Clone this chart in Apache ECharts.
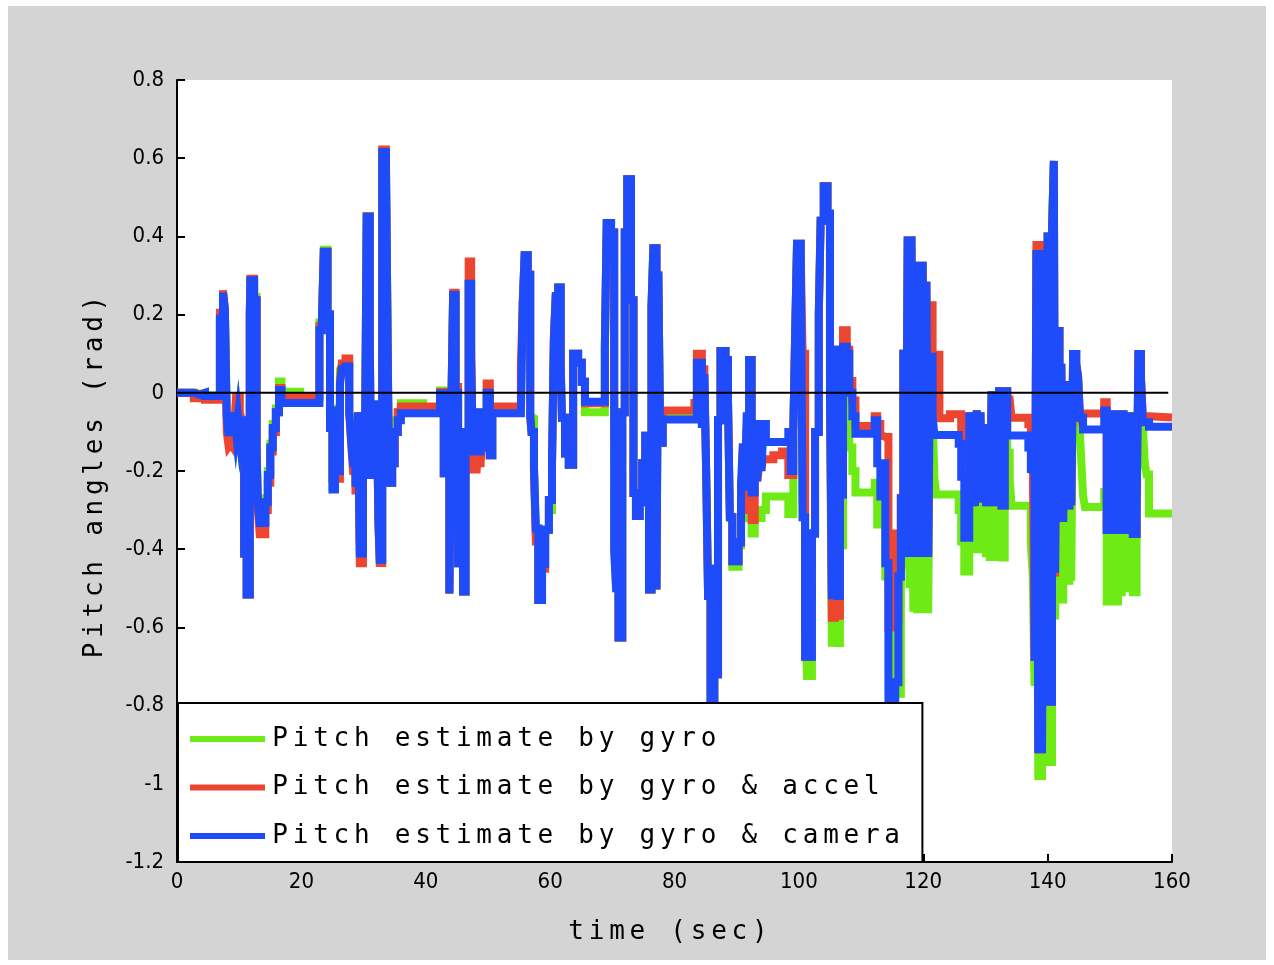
<!DOCTYPE html>
<html><head><meta charset="utf-8">
<script src="https://cdn.jsdelivr.net/npm/echarts@6/dist/echarts.min.js"></script>
<style>html,body{margin:0;padding:0;background:#fff;}#chart{position:absolute;left:8px;top:6px;width:1258px;height:954px;}</style>
</head><body><div id="chart"></div>
<script>
// time (sec)
const time = [
0,2.7,3.6,4.5,6.9,7.4,7.7,8.0,8.3,8.6,
8.9,9.2,9.5,9.8,10.1,10.4,10.8,11.2,11.7,11.8,
12.4,12.8,13.0,13.3,14.2,14.6,15.0,15.4,15.9,16.4,
16.8,19.8,22.9,23.3,23.6,24.2,24.6,25.0,25.4,25.8,
26.2,26.5,27.1,27.7,28.0,28.3,28.7,29.1,29.4,29.9,
30.2,30.5,31.0,31.2,31.5,31.8,32.1,32.4,32.6,33.0,
33.6,33.9,34.1,34.6,35.0,35.5,36.0,39.6,42.3,42.9,
43.3,43.8,44.1,44.4,44.8,45.2,45.6,46.0,46.4,46.9,
47.3,47.6,47.9,48.2,48.5,48.8,49.1,49.4,49.8,50.3,
50.7,55.3,55.6,55.9,56.4,56.8,57.0,57.4,57.7,58.1,
58.7,59.2,59.8,60.3,60.6,60.9,61.3,61.7,61.9,62.4,
63.0,63.7,64.5,65.1,65.6,68.8,69.1,69.8,70.3,70.6,
71.0,71.6,72.0,72.4,73.0,73.4,73.8,74.4,74.8,75.3,
75.9,76.3,76.6,77.1,77.4,77.7,78.1,83.2,83.6,84.4,
84.8,85.1,85.4,85.8,86.4,86.6,87.0,87.4,88.2,88.6,
88.9,89.3,90.3,90.7,91.0,91.3,91.6,92.0,92.4,92.9,
93.3,93.6,94.0,94.3,94.7,95.9,97.3,98.3,98.7,99.1,
99.4,99.7,100.3,100.6,101.0,101.3,102.1,102.6,103.2,103.5,
104.0,104.6,105.0,105.3,105.8,106.2,106.6,107.1,107.7,108.1,
108.6,109.1,112.2,112.6,113.1,113.5,113.9,114.4,115.0,115.5,
116.0,116.4,116.8,117.2,117.5,117.8,118.1,118.4,118.7,119.0,
119.3,119.6,119.9,120.2,120.5,120.8,121.1,121.5,121.8,122.1,
122.6,124.3,125.7,126.1,126.6,127.4,127.7,128.0,128.3,128.6,
128.9,129.2,129.5,129.8,130.1,130.4,130.7,131.0,131.3,131.6,
131.9,132.2,132.6,133.1,133.5,133.9,134.2,136.9,137.3,137.6,
137.9,138.2,138.5,138.8,139.1,139.4,139.7,140.0,140.3,140.7,
141.0,141.2,141.5,141.9,142.2,142.5,142.8,143.1,143.5,143.8,
144.1,144.6,144.9,145.2,145.4,145.7,146.0,149.1,149.5,149.8,
150.1,150.4,150.7,151.0,151.3,151.6,151.9,152.2,152.5,152.8,
153.1,153.4,153.7,154.3,154.6,155.0,155.3,155.6,155.9,156.3,160.0
];
// Pitch estimate by gyro & camera (rad)
const cameraPitch = [
0,-0.005,0,-0.008,0.19,0.256,0.211,-0.06,-0.11,-0.05,
-0.11,-0.05,-0.1,-0.06,-0.11,-0.07,-0.411,-0.516,0.2,0.288,
0.237,-0.15,-0.28,-0.333,-0.28,-0.21,-0.14,-0.09,-0.05,0.007,
-0.026,-0.026,0.16,0.18,0.361,0.2,-0.09,-0.247,-0.045,-0.2,
0.02,0.06,0.067,-0.05,-0.12,-0.18,-0.23,-0.05,-0.411,-0.1,
-0.22,0.451,0.13,-0.22,-0.02,-0.22,-0.02,-0.333,-0.427,0.616,
0.586,0.08,-0.23,-0.18,-0.1,-0.07,-0.052,-0.052,-0.002,-0.206,
-0.1,-0.513,-0.05,0.25,0,-0.436,-0.1,-0.508,-0.1,0.279,
0.08,-0.16,-0.04,-0.16,-0.04,-0.16,-0.05,-0.14,0,-0.16,
-0.052,-0.052,0.23,0.352,0.302,-0.06,-0.1,-0.19,-0.347,-0.53,
-0.438,-0.35,-0.274,-0.183,0.137,0.247,0.269,0.06,-0.064,-0.155,
-0.184,0.1,0.077,0.028,-0.023,0.115,0.434,0.41,-0.402,-0.5,
-0.626,-0.05,0.41,0.546,0.237,-0.256,-0.315,-0.28,-0.18,-0.11,
-0.503,0.22,0.37,-0.503,0.31,-0.128,-0.068,-0.068,0.077,-0.08,
0.048,-0.208,-0.52,-0.85,-0.44,-0.72,-0.07,0.107,0.084,-0.016,
-0.318,-0.431,-0.382,-0.23,-0.13,-0.25,-0.06,0.084,-0.255,-0.08,
-0.226,-0.08,-0.2,-0.08,-0.126,-0.126,-0.126,-0.1,-0.2,-0.1,
0.148,0.381,0.35,-0.318,-0.675,-0.675,-0.36,-0.1,0.2,0.44,
0.528,0.458,0,-0.518,0.11,-0.52,-0.26,0.118,0.1,0,
-0.06,-0.105,-0.07,-0.18,-0.265,-0.18,-0.436,-0.85,-0.85,-0.74,
-0.47,-0.27,0.1,-0.42,0.4,-0.42,0.4,-0.42,0.314,-0.42,
0.335,-0.42,0.335,-0.42,0.284,-0.42,0.092,-0.06,-0.108,-0.108,
-0.108,-0.108,-0.13,-0.215,-0.371,-0.05,-0.29,-0.05,-0.29,-0.045,
-0.28,-0.05,-0.28,-0.08,-0.29,-0.08,-0.29,0.004,-0.29,0.004,
-0.29,0.004,-0.288,0.004,-0.109,-0.109,-0.109,-0.14,-0.197,-0.2,
-0.686,0.365,-0.922,0.365,-0.922,0.365,-0.79,0.41,-0.79,0.41,
0.593,-0.46,0.158,-0.33,0.074,-0.33,0.03,-0.288,0.005,-0.288,
0.099,0.074,0.041,-0.064,-0.064,-0.094,-0.094,-0.045,-0.361,-0.045,
-0.361,-0.11,-0.361,-0.045,-0.361,-0.045,-0.361,-0.045,-0.361,-0.12,
-0.361,-0.05,-0.361,-0.3,0.099,0.041,-0.075,-0.075,-0.075,-0.087,-0.087
];
// Pitch estimate by gyro & accel (rad)
const accelPitch = [
0,-0.014,-0.004,-0.018,0.205,0.262,0.215,-0.1,-0.137,-0.13,
-0.137,-0.09,-0.01,-0.01,-0.05,-0.07,-0.411,-0.516,0.2,0.292,
0.237,-0.15,-0.3,-0.362,-0.3,-0.23,-0.15,-0.1,-0.05,0.012,
-0.011,-0.011,0.17,0.18,0.361,0.2,-0.09,-0.22,-0.2,-0.22,
0.03,0.075,0.088,-0.05,-0.13,-0.2,-0.25,-0.05,-0.436,-0.12,
-0.2,0.451,0.135,-0.2,-0.02,-0.2,-0.02,-0.333,-0.435,0.622,
0.59,0.085,-0.23,-0.18,-0.1,-0.05,-0.035,-0.035,0.002,-0.206,
-0.1,-0.513,-0.05,0.256,0.015,-0.436,-0.1,-0.508,-0.1,0.336,
0.117,-0.196,-0.196,-0.196,-0.12,-0.19,-0.1,-0.14,0.024,-0.16,
-0.035,0.075,0.23,0.352,0.302,-0.06,-0.1,-0.19,-0.38,-0.53,
-0.45,-0.35,-0.274,-0.183,0.137,0.247,0.269,0.075,-0.064,-0.155,
-0.184,0.1,0.077,0.028,-0.027,0.115,0.434,0.41,0,-0.402,
-0.626,-0.05,0.41,0.546,0.237,-0.256,-0.315,-0.28,-0.18,-0.11,
-0.503,0.22,0.37,-0.503,0.31,-0.128,-0.045,-0.026,0.1,0.06,
0.04,-0.208,-0.52,-0.85,-0.44,-0.72,-0.07,0.107,0.084,-0.016,
-0.318,-0.431,-0.382,-0.29,-0.13,-0.31,-0.1,0.084,-0.325,-0.19,
-0.226,-0.19,-0.19,-0.17,-0.17,-0.16,-0.15,-0.21,-0.21,-0.1,
0.148,0.381,0.35,0.1,-0.675,-0.675,-0.36,-0.1,0.2,0.44,
0.528,0.458,0.05,-0.575,0.11,-0.57,-0.26,0.16,0.11,0.03,
-0.02,-0.085,-0.06,-0.08,-0.11,-0.113,-0.113,-0.6,-0.36,-0.58,
-0.47,-0.27,0.1,-0.42,0.4,-0.42,0.4,-0.22,0.314,-0.42,
0.335,-0.42,0.335,-0.42,0.284,-0.42,0.224,0.097,0.097,0.097,
-0.065,-0.055,-0.055,-0.1,-0.19,-0.05,-0.29,-0.05,-0.29,-0.045,
-0.28,-0.05,-0.28,-0.08,-0.29,-0.08,-0.29,0.004,-0.29,0.004,
-0.29,0.004,-0.288,0.004,-0.017,-0.017,-0.064,-0.08,-0.13,-0.15,
-0.686,0.388,-0.922,0.388,-0.922,0.388,-0.79,0.41,-0.79,0.41,
0.593,-0.47,0.158,-0.33,0.074,-0.33,0.03,-0.288,0.005,-0.288,
0.099,0.074,0.041,-0.06,-0.07,-0.053,-0.053,-0.024,-0.361,-0.045,
-0.361,-0.11,-0.361,-0.045,-0.361,-0.045,-0.361,-0.045,-0.361,-0.12,
-0.361,-0.05,-0.361,-0.3,0.099,0.041,-0.06,-0.06,-0.06,-0.063,-0.063
];
// Pitch estimate by gyro (rad)
const gyroPitch = [
0,-0.003,0,-0.006,0.19,0.256,0.211,-0.06,-0.11,-0.05,
-0.11,-0.05,-0.1,-0.06,-0.11,-0.07,-0.411,-0.516,0.2,0.288,
0.245,-0.14,-0.26,-0.33,-0.27,-0.2,-0.13,-0.08,-0.04,0.029,
0.003,-0.015,0.18,0.19,0.366,0.2,-0.08,-0.24,-0.04,-0.15,
0.06,0.07,0.07,-0.05,-0.1,-0.16,-0.22,-0.05,-0.411,-0.1,
-0.22,0.451,0.13,-0.22,-0.02,-0.22,-0.02,-0.333,-0.427,0.616,
0.586,0.08,-0.23,-0.07,-0.07,-0.05,-0.027,-0.04,0.006,-0.206,
-0.1,-0.513,-0.05,0.25,0,-0.436,-0.1,-0.508,-0.1,0.279,
0.08,-0.16,-0.04,-0.16,-0.04,-0.16,-0.05,-0.14,0,-0.16,
-0.04,-0.04,0.23,0.352,0.302,-0.06,-0.065,-0.19,-0.347,-0.53,
-0.438,-0.35,-0.3,-0.2,0.137,0.247,0.269,0.075,-0.064,-0.155,
-0.184,0.1,0.077,0.028,-0.05,0.115,0.434,0.41,-0.402,-0.5,
-0.626,-0.05,0.41,0.546,0.237,-0.256,-0.315,-0.28,-0.18,-0.11,
-0.503,0.22,0.37,-0.503,0.31,-0.128,-0.058,-0.058,0.077,-0.08,
0.048,-0.208,-0.52,-0.85,-0.44,-0.72,-0.07,0.107,0.084,-0.016,
-0.318,-0.445,-0.39,-0.3,-0.29,-0.33,-0.25,0.084,-0.36,-0.31,
-0.32,-0.32,-0.3,-0.3,-0.265,-0.265,-0.265,-0.31,-0.31,-0.1,
0.148,0.381,0.35,-0.318,-0.59,-0.724,-0.36,-0.1,0.2,0.44,
0.528,0.458,0,-0.639,0.11,-0.64,-0.39,0.118,0.1,-0.14,
-0.2,-0.255,-0.23,-0.337,-0.337,-0.25,-0.47,-0.48,-0.6,-0.77,
-0.77,-0.44,0.1,-0.45,0.4,-0.5,0.4,-0.56,0.314,-0.564,
0.335,-0.564,0.335,-0.564,0.284,-0.564,0.092,-0.06,-0.223,-0.26,
-0.26,-0.26,-0.3,-0.38,-0.457,-0.23,-0.4,-0.23,-0.41,-0.25,
-0.41,-0.25,-0.41,-0.25,-0.42,-0.25,-0.43,0.004,-0.43,0.004,
-0.43,0.004,-0.421,0.004,-0.154,-0.22,-0.289,-0.29,-0.386,-0.464,
-0.75,0.365,-0.99,0.365,-0.99,0.365,-0.944,0.41,-0.944,0.41,
0.593,-0.58,0.158,-0.539,0.074,-0.539,0.03,-0.481,0.005,-0.481,
0.099,0.074,0.041,-0.108,-0.17,-0.264,-0.292,-0.254,-0.544,-0.3,
-0.544,-0.3,-0.544,-0.3,-0.544,-0.3,-0.52,-0.3,-0.51,-0.3,
-0.51,-0.3,-0.51,-0.4,0.099,0.041,-0.08,-0.176,-0.209,-0.309,-0.309
];
const seriesNames = ['Pitch estimate by gyro', 'Pitch estimate by gyro & accel', 'Pitch estimate by gyro & camera'];
const zeroLineTimes = [0, 159.4];

const colors = { gyro: '#6eea14', accel: '#ec4530', camera: '#1e4cfb' };
const monoFont = '"DejaVu Sans Mono","Liberation Mono",monospace';
const tickFont = '"Liberation Sans Narrow","DejaVu Sans Condensed","Arial Narrow",sans-serif';
const CH = 20.4;
function mono(s) { return s.split('').map(c => '{m|' + (c === ' ' ? '\u00a0' : c) + '}').join(''); }
const monoRich = { m: { width: CH, align: 'center', fontFamily: monoFont, fontSize: 26, lineHeight: 30, color: '#000' } };
function pairs(vals) { return time.map((t, i) => [t, vals[i]]); }
function lineSeries(name, vals, color) {
  return { name: name, type: 'line', data: pairs(vals), step: 'end', symbol: 'none', silent: true,
    lineStyle: { color: color, width: 8, join: 'miter', cap: 'butt' }, itemStyle: { color: color } };
}

const chart = echarts.init(document.getElementById('chart'));
chart.setOption({
  animation: false,
  backgroundColor: '#d4d4d4',
  grid: { left: 169, top: 74, width: 995, height: 782, show: true, backgroundColor: '#fff', borderWidth: 0 },
  xAxis: {
    type: 'value', min: 0, max: 160, interval: 20,
    name: mono('time (sec)'), nameLocation: 'middle', nameGap: 55,
    nameTextStyle: { rich: monoRich, padding: [0, 13, 0, 0] },
    axisLine: { onZero: false, lineStyle: { color: '#000', width: 2 } },
    axisTick: { inside: true, length: 8, lineStyle: { color: '#000', width: 2 } },
    axisLabel: { color: '#000', fontFamily: tickFont, fontSize: 22, margin: 9 },
    splitLine: { show: false }
  },
  yAxis: {
    type: 'value', min: -1.2, max: 0.8, interval: 0.2,
    name: mono('Pitch angles (rad)'), nameLocation: 'middle', nameGap: 67, nameRotate: 90,
    nameTextStyle: { rich: monoRich, padding: [0, 12, 0, 0] },
    axisLine: { onZero: false, lineStyle: { color: '#000', width: 2 } },
    axisTick: { inside: true, length: 8, lineStyle: { color: '#000', width: 2 } },
    axisLabel: { color: '#000', fontFamily: tickFont, fontSize: 22, margin: 13 },
    splitLine: { show: false }
  },
  legend: {
    data: seriesNames, left: 170, top: 697, orient: 'vertical', icon: 'rect',
    itemWidth: 75, itemHeight: 6, itemGap: 22.5, padding: [23, 20, 13, 12],
    backgroundColor: '#fff', borderColor: '#000', borderWidth: 2, borderRadius: 0,
    selectedMode: false, formatter: n => mono(n), textStyle: { rich: monoRich }
  },
  series: [
    lineSeries(seriesNames[0], gyroPitch, colors.gyro),
    lineSeries(seriesNames[1], accelPitch, colors.accel),
    lineSeries(seriesNames[2], cameraPitch, colors.camera),
    { type: 'line', data: zeroLineTimes.map(t => [t, 0]), symbol: 'none', silent: true, z: 3,
      lineStyle: { color: '#000', width: 2 } }
  ]
});
</script>
</body></html>
